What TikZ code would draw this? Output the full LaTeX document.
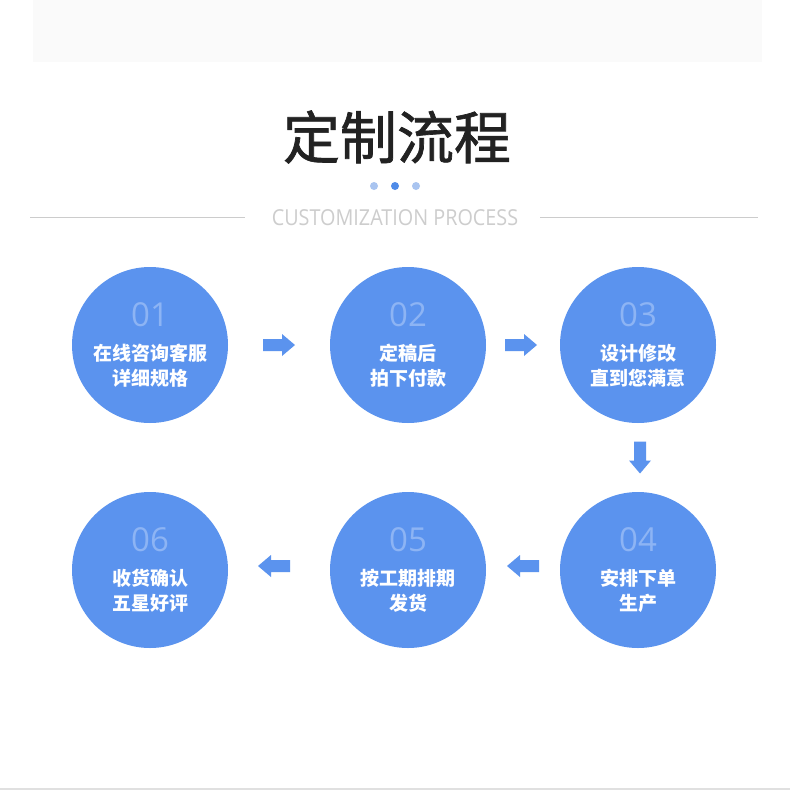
\documentclass[tikz,border=0pt]{standalone}
\usepackage{fontspec}
\newfontfamily\cjk{Noto Sans CJK SC}
\newfontfamily\cjktitle[FakeBold=1.2]{Noto Sans CJK SC}
\newfontfamily\latinfont{Open Sans}
\newfontfamily\subfont[FakeStretch=0.9]{Open Sans}
\usetikzlibrary{calc}
\definecolor{circblue}{HTML}{5B93EE}
\definecolor{numblue}{HTML}{8DB4F4}
\definecolor{dotlight}{HTML}{A9C4F0}
\definecolor{dotdark}{HTML}{4F8BE8}
\definecolor{linegray}{HTML}{CCCCCC}
\definecolor{subgray}{HTML}{CDCDCD}
\definecolor{bandgray}{HTML}{FAFAFA}
\definecolor{titleblack}{HTML}{222222}
\tikzset{
  stepcircle/.style={circle, fill=circblue, minimum size=156pt, inner sep=0pt},
  numtext/.style={text=numblue, font=\latinfont\fontsize{33}{33}\selectfont},
  labtext/.style={text=white, align=center, font=\cjk\bfseries\fontsize{19}{25}\selectfont},
  blockarrow/.pic={\fill[circblue] (-16,-6) -- (3,-6) -- (3,-11) -- (16,0) -- (3,11) -- (3,6) -- (-16,6) -- cycle;},
}
\begin{document}
\begin{tikzpicture}[x=1pt,y=-1pt]
\useasboundingbox (0,0) rectangle (790,790);
\fill[white] (0,0) rectangle (790,790);
\fill[bandgray] (33,0) rectangle (762,62);
\draw[linegray!60, line width=1.5pt] (0,789) -- (790,789);
% title
\node[text=titleblack] (title) at (397,137) {\cjktitle\fontsize{57}{57}\selectfont 定制流程};
\fill[dotlight] (374,186) circle (4);
\fill[dotdark] (395,186) circle (4);
\fill[dotlight] (416,186) circle (4);
\node[text=subgray, font=\subfont\fontsize{22}{22}\selectfont, inner sep=0pt] (sub) at (395,218) {CUSTOMIZATION PROCESS};
\draw[linegray, line width=0.8pt] (30,217) -- (245,217);
\draw[linegray, line width=0.8pt] (540,217) -- (758,217);
% circles
\node[stepcircle] (c1) at (150,345) {};
\node[stepcircle] (c2) at (408,345) {};
\node[stepcircle] (c3) at (638,345) {};
\node[stepcircle] (c4) at (638,570) {};
\node[stepcircle] (c5) at (408,570) {};
\node[stepcircle] (c6) at (150,570) {};
\foreach \c/\n/\t in {c1/01/{在线咨询客服\\详细规格}, c2/02/{定稿后\\拍下付款}, c3/03/{设计修改\\直到您满意},
  c4/04/{安排下单\\生产}, c5/05/{按工期排期\\发货}, c6/06/{收货确认\\五星好评}} {
  \node[numtext] (\c n) at ($(\c)+(0,-30)$) {\n};
  \node[labtext] (\c t) at ($(\c)+(0,21)$) {\t};
}
% arrows
\coordinate (a12) at ($(c1.east)!0.5!(c2.west)$);
\coordinate (a23) at ($(c2.east)!0.5!(c3.west)+(-2,0)$);
\coordinate (a34) at ($(c3.south)!0.5!(c4.north)+(2,0)$);
\coordinate (a45) at ($(c4.west)!0.5!(c5.east)+(0,-4)$);
\coordinate (a56) at ($(c5.west)!0.5!(c6.east)+(-5,-4)$);
\pic at (a12) {blockarrow};
\pic at (a23) {blockarrow};
\pic[rotate=-90] at (a34) {blockarrow};
\pic[rotate=180] at (a45) {blockarrow};
\pic[rotate=180] at (a56) {blockarrow};
\end{tikzpicture}
\end{document}
